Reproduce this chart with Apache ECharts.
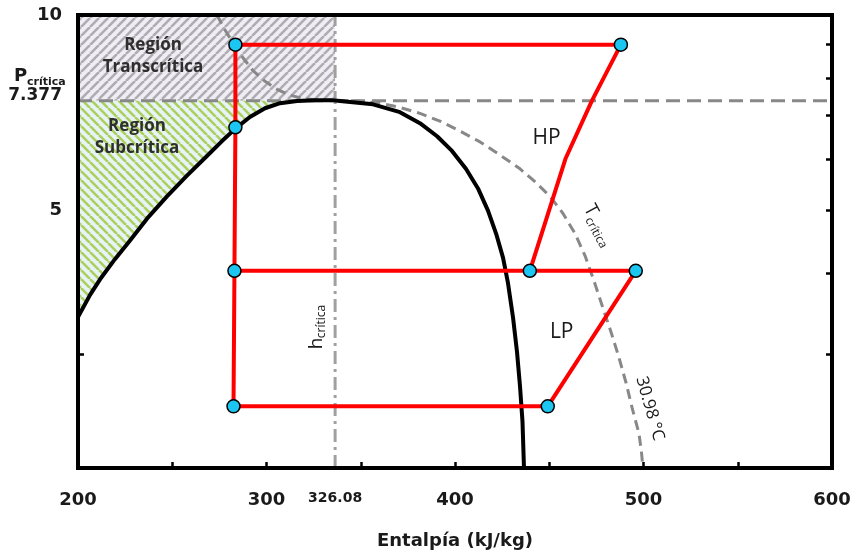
<!DOCTYPE html>
<html><head><meta charset="utf-8">
<script src="https://cdn.jsdelivr.net/npm/echarts@6/dist/echarts.min.js"></script>
<style>html,body{margin:0;padding:0;background:#fff}#c{width:855px;height:553px}</style>
</head><body><div id="c"></div>
<script>
// ---------- data ----------
const xTickValues = [250, 300, 350, 400, 450, 500, 550];
const xLabelValues = [200, 300, 400, 500, 600];
const hCritLine = 336.4;          // position of the dash-dot h_crítica line
const hCritLabel = '326.08';
const yTickValues = [3, 4, 5, 6, 7, 8, 9];
const yLabelValues = [5, 10];
const pCrit = 7.377;
const pCritLabel = '7.377';

const domeCurve = [[200,3.42],[206.4,3.70],[211.7,3.91],[219.6,4.20],[227.6,4.49],[236.6,4.85],[247.2,5.25],
  [257.8,5.65],[268.4,6.06],[276.4,6.39],[283.8,6.69],[291.2,6.96],[299.2,7.18],[307.2,7.31],[316.2,7.37],
  [326,7.39],[334.7,7.39],[339,7.37],[356.5,7.28],[370.8,7.08],[381.4,6.81],[390.5,6.50],[398.4,6.17],
  [405.8,5.79],[412.2,5.40],[417.5,4.99],[421.8,4.60],[425.5,4.22],[428.1,3.86],[430.8,3.41],[432.9,3.02],
  [434.5,2.67],[435.8,2.36],[436.6,2.0]];

const tCritCurve = [[273.7,10],[278,9.48],[282.2,9.06],[287.5,8.59],[292.8,8.21],[299.2,7.90],[305.6,7.68],
  [312.5,7.52],[320.4,7.42],[328.4,7.39],[339,7.38],[349.6,7.36],[360.2,7.31],[370.8,7.20],[381.4,7.05],
  [392,6.86],[402.7,6.62],[413.3,6.37],[423.9,6.08],[434.5,5.79],[442.4,5.53],[450.4,5.25],[457.3,4.94],
  [463.7,4.60],[469,4.25],[473.7,3.89],[478.5,3.53],[482.8,3.24],[487,2.96],[490.7,2.71],[493.9,2.48],
  [497.6,2.26],[498.9,2.12],[499.7,2.0]];

const hpLine = [[283.5,9.0],[488.0,9.0],[472.6,7.37],[458.6,6.0],[439.7,4.03]];
const lpLine = [[283.0,4.03],[495.9,4.03],[449.2,2.49],[282.5,2.49]];
const leftLine = [[283.5,9.0],[283.5,6.71],[283.0,4.03],[282.5,2.49]];
const statePoints = [[283.5,9.0],[283.5,6.71],[283.0,4.03],[282.5,2.49],[488.0,9.0],[439.7,4.03],[495.9,4.03],[449.2,2.49]];

const xMin = 200, xMax = 600, yMin = 2, yMax = 10;

// ---------- styles ----------
const fontNum = "'DejaVu Sans', sans-serif";
const fontTxt = "'Open Sans', sans-serif";

function stripes(bg, fg, dir) {
  const s = 9, c = document.createElement('canvas');
  c.width = s; c.height = s;
  const g = c.getContext('2d');
  g.fillStyle = bg; g.fillRect(0, 0, s, s);
  g.strokeStyle = fg; g.lineWidth = 2.6;
  g.beginPath();
  for (let k = -1; k <= 1; k++) {
    if (dir === '/') { g.moveTo(k * s, s); g.lineTo(k * s + s, 0); }
    else { g.moveTo(k * s, 0); g.lineTo(k * s + s, s); }
  }
  g.stroke();
  return c;
}
const transPattern = { image: stripes('#F1EDF5', '#AEADB2', '/'), repeat: 'repeat' };
const subPattern = { image: stripes('#E8F3F7', '#ABD05E', '\\'), repeat: 'repeat' };

// region polygons built from the data
const transRegion = [[xMin, pCrit], [xMin, yMax], [hCritLine, yMax], [hCritLine, pCrit]];
const subRegion = [[xMin, pCrit]].concat(domeCurve.filter(p => p[0] < 320 && p[1] < pCrit), [[318, pCrit]]);

function polySeries(pts, fill) {
  return {
    type: 'custom', coordinateSystem: 'cartesian2d', silent: true, clip: true, z: 1,
    data: [[400, 5]],
    renderItem: (params, api) => ({
      type: 'polygon',
      shape: { points: pts.map(p => api.coord(p)) },
      style: { fill: fill, stroke: null }
    })
  };
}

function lineSeries(data, color, width, type, z) {
  return {
    type: 'line', data: data, showSymbol: false, symbol: 'none', silent: true, z: z,
    smooth: false, animation: false,
    lineStyle: { color: color, width: width, type: type || 'solid', cap: 'butt', join: 'round' }
  };
}

const deg = Math.PI / 180;
function annotations(params, api) {
  const txt = (text, x, y, size, weight, family, align, extra) => ({
    type: 'text', x: x, y: y,
    style: Object.assign({ text: text, fontSize: size, fontWeight: weight, fontFamily: family,
      fill: '#1a1a1a', align: align, verticalAlign: 'middle' }, extra || {})
  });
  const grp = (at, dx, dy, rot, children) => {
    const p = api.coord(at);
    return { type: 'group', x: p[0] + dx, y: p[1] + dy, rotation: rot, children: children };
  };
  return {
    type: 'group', children: [
      grp([239.8, 8.65], 0, 0, 0, [txt('Región\nTranscrítica', 0, 0, 17, 'bold', fontTxt, 'center', { lineHeight: 22, fill: '#2e2e2e' })]),
      grp([231.3, 6.48], 0, 0, 0, [txt('Región\nSubcrítica', 0, 0, 17, 'bold', fontTxt, 'center', { lineHeight: 22, fill: '#2e2e2e' })]),
      grp([448.6, 6.47], 0, 0, 0, [txt('HP', 0, 0, 21, 'normal', fontTxt, 'center')]),
      grp([456.6, 3.24], 0, 0, 0, [txt('LP', 0, 0, 21, 'normal', fontTxt, 'center')]),
      grp([503.4, 2.47], 0, 0, -74 * deg, [txt('30.98 °C', 0, 0, 17, 'normal', fontTxt, 'center')]),
      grp([470.7, 5.08], 0, 0, -62 * deg, [txt('T', 0, 0, 19, 'normal', fontTxt, 'left'), txt('crítica', 11, 6, 12, 'normal', fontTxt, 'left')]),
      grp([326.8, 3.05], 0, 0, 90 * deg, [txt('h', 0, 0, 19, 'normal', fontTxt, 'left'), txt('crítica', 11, 5, 12, 'normal', fontTxt, 'left')]),
      grp([xMin, pCrit], -64, -24, 0, [txt('P', 0, 0, 18, 'bold', fontNum, 'left'), txt('crítica', 13, 6, 11, 'bold', fontNum, 'left')])
    ]
  };
}

const near = (a, b) => Math.abs(a - b) < 0.01;

const chart = echarts.init(document.getElementById('c'), null, { renderer: 'canvas' });
chart.setOption({
  animation: false,
  backgroundColor: '#fff',
  grid: { left: 78, right: 23, top: 15, bottom: 85, outerBoundsMode: 'none', containLabel: false,
    show: true, borderColor: '#000', borderWidth: 4, backgroundColor: 'transparent', z: 10 },
  xAxis: {
    type: 'value', min: xMin, max: xMax,
    axisLine: { show: false }, splitLine: { show: false },
    axisTick: { show: true, inside: true, length: 6, lineStyle: { color: '#000', width: 2.5 }, customValues: xTickValues },
    axisLabel: {
      customValues: xLabelValues.concat([hCritLine]),
      showMinLabel: true, showMaxLabel: true,
      formatter: v => near(v, hCritLine) ? '{s|' + hCritLabel + '}' : String(v),
      margin: 23, color: '#1a1a1a', fontFamily: fontNum, fontSize: 18, fontWeight: 'bold',
      rich: { s: { fontFamily: fontNum, fontSize: 14, fontWeight: 'bold', color: '#1a1a1a' } }
    },
    name: 'Entalpía (kJ/kg)', nameLocation: 'middle', nameGap: 64,
    nameTextStyle: { color: '#1a1a1a', fontFamily: fontNum, fontSize: 18, fontWeight: 'bold' }
  },
  yAxis: [{
    type: 'log', logBase: 10, min: yMin, max: yMax, position: 'left',
    axisLine: { show: false }, splitLine: { show: false },
    axisTick: { show: true, inside: true, length: 6, lineStyle: { color: '#000', width: 2.5 }, customValues: yTickValues },
    axisLabel: {
      customValues: yLabelValues.concat([pCrit]),
      showMinLabel: true, showMaxLabel: true,
      formatter: v => near(v, pCrit) ? '{c|' + pCritLabel + '}' : String(Math.round(v)),
      margin: 16, color: '#1a1a1a', fontFamily: fontNum, fontSize: 18, fontWeight: 'bold',
      rich: { c: { fontFamily: fontNum, fontSize: 17, fontWeight: 'bold', color: '#1a1a1a', padding: [0, 0, 10, 0] } }
    },
    name: 'Presión (MPa)', nameLocation: 'middle', nameGap: 48,
    nameTextStyle: { color: '#1a1a1a', fontFamily: fontNum, fontSize: 18, fontWeight: 'bold', padding: [0, 0, 0, 18] }
  }, {
    type: 'log', logBase: 10, min: yMin, max: yMax, position: 'right',
    axisLine: { show: false }, splitLine: { show: false },
    axisTick: { show: true, inside: true, length: 6, lineStyle: { color: '#000', width: 2.5 }, customValues: yTickValues },
    axisLabel: { show: false }
  }],
  series: [
    polySeries(transRegion, transPattern),
    polySeries(subRegion, subPattern),
    lineSeries([[xMin, pCrit], [xMax, pCrit]], '#888888', 3, [14, 7], 3),
    lineSeries([[hCritLine, yMin], [hCritLine, yMax]], '#A0A0A0', 3, [13, 5, 3, 5], 3),
    lineSeries(tCritCurve, '#888888', 3, [10, 6], 3),
    lineSeries(domeCurve, '#000000', 4, 'solid', 4),
    lineSeries(hpLine, '#FF0000', 4, 'solid', 5),
    lineSeries(lpLine, '#FF0000', 4, 'solid', 5),
    lineSeries(leftLine, '#FF0000', 4, 'solid', 5),
    {
      type: 'scatter', data: statePoints, symbol: 'circle', symbolSize: 13, z: 6, silent: true,
      itemStyle: { color: '#1CC6F2', borderColor: '#000', borderWidth: 1.5, opacity: 1 }
    },
    {
      type: 'custom', coordinateSystem: 'cartesian2d', silent: true, clip: false, z: 7,
      data: [[400, 5]], renderItem: annotations
    }
  ]
});
</script></body></html>
